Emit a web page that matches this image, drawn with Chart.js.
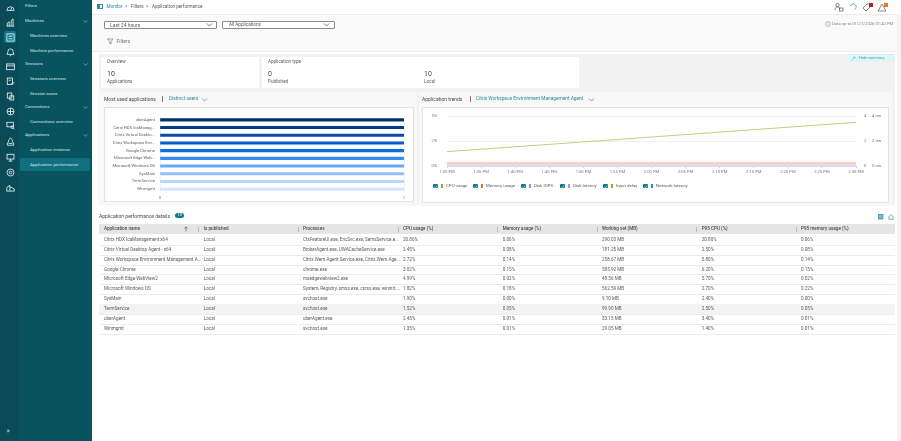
<!DOCTYPE html>
<html lang="en">
<head>
  <meta charset="UTF-8">
  <title>Application performance</title>
  <script src="https://cdn.jsdelivr.net/npm/chart.js"></script>
  <style>
    html, body { margin: 0; padding: 0; background: #fff; overflow: hidden; }
    #page { position: relative; width: 901px; height: 441px; overflow: hidden;
      font-family: 'Roboto', sans-serif; font-size: 4.6px; color: #5a5a5a; filter: blur(0.5px); }
    #page div, #page svg { position: absolute; }
    .t { white-space: nowrap; line-height: 6px; margin-top: -3px; }
    .nav { color: #cfe3e5; font-size: 4.4px; }
    .link { color: #2a8d9c; font-size: 4.8px; }
    .box { background: #fff; border: 0.6px solid #e3e3e3; box-sizing: border-box; }
    .dd { background: #fff; border: 0.7px solid #8a8a8a; border-radius: 1px; box-sizing: border-box; }
    .card { background: #fff; }
    .panel { background: #f8f8f8; }
    .big { font-size: 7px; color: #444; }
    .ttl { font-size: 5px; color: #4a4a4a; }
    .th { font-weight: 500; color: #4a4a4a; }
    .rowline { background: #ececec; height: 0.6px; }
    .chk { background: #0c7a8c; border-radius: 0.8px; width: 4.6px; height: 4.6px; }
  </style>
</head>
<body>
<div id="page">
  <!-- side nav -->
  <div style="left:0;top:0;width:18px;height:441px;background:#0a4b57"></div>
  <div style="left:18px;top:0;width:73.5px;height:441px;background:#07545f"></div>
  <div style="left:20px;top:158px;width:69.5px;height:13px;background:#106f7e;border-radius:2px"></div>
  <div style="left:4px;top:31px;width:12px;height:12px;background:#107a8a;border-radius:2px"></div>
  <div id="navIcons" style="left:0;top:0"></div>
  <div id="navItems" style="left:0;top:0"></div>
  <div class="t nav" style="left:6.500px;top:431px;font-size:7px">»</div>

  <!-- top bar -->
  <div style="left:91.5px;top:14px;width:810px;height:0.7px;background:#ececec"></div>
  <div style="left:97px;top:4px;width:5.5px;height:5px;border:0.7px solid #2c8ea0;background:linear-gradient(90deg,#2c8ea0 40%,#fff 40%);box-sizing:border-box"></div>
  <div class="t link" style="left:106.5px;top:6.5px;font-size:4.6px">Monitor</div>
  <div class="t" style="left:125px;top:6.5px">&gt;</div>
  <div class="t" style="left:131px;top:6.5px">Filters</div>
  <div class="t" style="left:146px;top:6.5px">&gt;</div>
  <div class="t" style="left:152px;top:6.5px">Application performance</div>

  <svg style="left:834px;top:2px" width="60" height="11" viewBox="0 0 60 11" fill="none" stroke="#555" stroke-width="0.7">
    <circle cx="3.500" cy="3" r="1.700"/><path d="M1 8c0-2 1-3 2.500-3s2 .5 2.500 1.500"/><rect x="5.500" y="6" width="3.500" height="3"/>
    <path d="M22 5a3 3 0 1 0-5 2" stroke="#2a93a4" transform="rotate(60 19 5)"/>
    <path d="M29 6l4-4 3 0 0 3-4 4z"/>
    <path d="M44 9l4-7 4 7z"/>
    <rect x="35" y="1" width="4" height="4" fill="#b3202a" stroke="none"/>
    <rect x="50" y="1" width="4" height="4" fill="#e8792b" stroke="none"/>
  </svg>

  <!-- filter strip -->
  <div style="left:91.5px;top:14.7px;width:810px;height:36px;background:#fafafa"></div>
  <div style="left:91.5px;top:50.5px;width:810px;height:0.7px;background:#ededed"></div>
  <div class="dd" style="left:104px;top:20.5px;width:113px;height:8.5px"></div>
  <div class="t" style="left:110px;top:24.7px;font-size:5px">Last 24 hours</div>
  <svg style="left:205.5px;top:23px" width="7" height="4" fill="none" stroke="#444" stroke-width="0.7"><path d="M1 .5l2.500 2.500 2.500-2.500"/></svg>
  <div class="dd" style="left:222px;top:20.5px;width:113px;height:8.5px"></div>
  <div class="t" style="left:229px;top:24.7px">All Applications</div>
  <svg style="left:323px;top:23px" width="7" height="4" fill="none" stroke="#444" stroke-width="0.7"><path d="M1 .5l2.500 2.500 2.500-2.500"/></svg>
  <svg style="left:107px;top:38px" width="7" height="7" fill="none" stroke="#666" stroke-width="0.6"><path d="M.5 1h5.500L4 3.500V6L2.800 5.500V3.500z"/></svg>
  <div class="t" style="left:116.500px;top:41px;font-size:5px;color:#777">Filters</div>
  <svg style="left:825px;top:21px" width="6" height="6" fill="none" stroke="#888" stroke-width="0.5"><circle cx="3" cy="3" r="2.500"/><path d="M3 1.500V3l1 1"/></svg>
  <div class="t" style="left:832px;top:24px;font-size:4.200px;color:#888">Data up to 01/21/2026 01:42 PM</div>

  <!-- summary -->
  <div style="left:99px;top:54px;width:796px;height:151px;background:#f2f2f2"></div>
  <div style="left:897px;top:14px;width:4px;height:427px;background:#f4f4f4"></div>
  <div style="left:848px;top:54px;width:47px;height:7.500px;background:#def5f5;border-radius:1px"></div>
  <div class="t" style="left:859px;top:57.500px;font-size:3.900px;color:#4a9aa5">Hide summary</div>
  <svg style="left:851px;top:55.500px" width="5" height="5" fill="none" stroke="#4a9aa5" stroke-width="0.5"><path d="M.5 4.500l3.500-3.500M2.500 1h1.500v1.500"/></svg>
  <div class="card" style="left:101px;top:57px;width:158px;height:31px"></div>
  <div class="card" style="left:262px;top:57px;width:317px;height:31px"></div>
  <div class="t" style="left:107px;top:62.200px">Overview</div>
  <div class="t big" style="left:107px;top:73.500px">10</div>
  <div class="t" style="left:107px;top:81.700px">Applications</div>
  <div class="t" style="left:268px;top:62.200px">Application type</div>
  <div class="t big" style="left:268px;top:73.500px">0</div>
  <div class="t" style="left:268px;top:81.700px">Published</div>
  <div class="t big" style="left:424px;top:73.500px">10</div>
  <div class="t" style="left:424px;top:81.700px">Local</div>

  <!-- panels -->
  <div class="panel" style="left:98px;top:92px;width:319px;height:114px"></div>
  <div class="panel" style="left:419px;top:92px;width:473px;height:114px"></div>
  <div class="t ttl" style="left:104px;top:99px">Most used applications</div>
  <div style="left:162px;top:96px;width:0.6px;height:6px;background:#777"></div>
  <div class="t link" style="left:169px;top:99.300px">Distinct users</div>
  <svg style="left:200.500px;top:97.500px" width="7" height="4" fill="none" stroke="#0f8191" stroke-width="0.6"><path d="M1 .5l2.500 2.500 2.500-2.500"/></svg>
  <div class="t ttl" style="left:422px;top:99px">Application trends</div>
  <div style="left:470px;top:96px;width:0.6px;height:6px;background:#777"></div>
  <div class="t link" style="left:476px;top:99.300px">Citrix Workspace Environment Management Agent</div>
  <svg style="left:588px;top:97.500px" width="7" height="4" fill="none" stroke="#0f8191" stroke-width="0.6"><path d="M1 .5l2.500 2.500 2.500-2.500"/></svg>

  <div class="box" style="left:104px;top:106.500px;width:309.500px;height:95.500px"></div>
  <div style="left:105px;top:107px;width:305px;height:95px"><canvas id="usedChart"></canvas></div>
  <div class="box" style="left:422px;top:106.500px;width:467px;height:96.500px"></div>
  <div style="left:423px;top:107px;width:465px;height:95px"><canvas id="trendChart"></canvas></div>
  <div id="trendLegend" style="left:0;top:0"></div>

  <!-- details table -->
  <div class="t ttl" style="left:99px;top:215.500px">Application performance details</div>
  <div style="left:175px;top:212.500px;width:9px;height:5.500px;border-radius:3px;background:#0c7a8c"></div>
  <div class="t" style="left:177.500px;top:215.400px;color:#fff;font-size:4px">10</div>
  <svg style="left:877.500px;top:214px" width="16" height="6" fill="none" stroke="#2a93a4" stroke-width="0.7">
    <rect x=".5" y=".5" width="4.500" height="4.500" fill="#7fbcc6"/><path d="M11 5.300h4V2.500l-2-2-2 2z"/>
  </svg>
  <div style="left:99px;top:224px;width:796px;height:10.400px;background:#e5e5e5"></div>
  <div id="detailTable" style="left:0;top:0"></div>
  <svg style="left:182.500px;top:226px" width="6" height="6" fill="none" stroke="#555" stroke-width="0.6"><path d="M3 5.500V.8M1 2.800l2-2 2 2"/></svg>
</div>

<script>
  // Most used applications (distinct users)
  const usedApps = ['uberAgent', 'Citrix HDX IcaManag...', 'Citrix Virtual Deskto...', 'Citrix Workspace Env...', 'Google Chrome',
    'Microsoft Edge Web...', 'Microsoft Windows OS', 'SysMain', 'TermService', 'Winmgmt'];
  const distinctUsers = [1, 1, 1, 1, 1, 1, 1, 1, 1, 1];
  const usedColors = ['#06306e', '#063a85', '#0a4ba8', '#0b59c4', '#0c6fe6', '#3b8af0', '#69a7f5', '#93c0f8', '#b9d5fb', '#d6e6fd'];
  const usedTicks = ['0', '1'];

  // Application trends
  const trendTimes = ['1:30 PM', '1:35 PM', '1:40 PM', '1:45 PM', '1:50 PM', '1:55 PM', '2:00 PM', '2:05 PM', '2:10 PM', '2:15 PM', '2:20 PM', '2:25 PM', '2:30 PM'];
  const cpuUsage = [1.43, 1.68, 1.92, 2.16, 2.41, 2.65, 2.9, 3.14, 3.39, 3.63, 3.88, 4.12, 4.37];
  const memoryUsage = [0.27, 0.27, 0.27, 0.27, 0.27, 0.27, 0.27, 0.27, 0.27, 0.27, 0.27, 0.27, 0.27];
  const diskIops = [0, 0, 0, 0, 0, 0, 0, 0, 0, 0, 0, 0, 0];
  const diskLatency = [0.08, 0.08, 0.08, 0.08, 0.08, 0.08, 0.08, 0.08, 0.08, 0.08, 0.08, 0.08, 0.08];
  const inputDelay = [0, 0, 0, 0, 0, 0, 0, 0, 0, 0, 0, 0, 0];
  const networkLatency = [0, 0, 0, 0, 0, 0, 0, 0, 0, 0, 0, 0, 0];
  const percentTicks = ['0%', '2%', '5%'];
  const countTicks = ['0', '2', '4'];
  const msTicks = ['0 ms', '2 ms', '4 ms'];

  const legendNames = ['CPU usage', 'Memory usage', 'Disk IOPS', 'Disk latency', 'Input delay', 'Network latency'];
  const legendColors = ['#9aa82e', '#e8702a', '#7f9dfc', '#b78af5', '#b99b12', '#1a9aa8'];
  const legendX = [433, 473, 521, 560, 603, 643];

  // Details table
  const tableHeaders = ['Application name', 'Is published', 'Processes', 'CPU usage (%)', 'Memory usage (%)', 'Working set (MB)', 'P95 CPU (%)', 'P95 memory usage (%)'];
  const appNames = ['Citrix HDX IcaManagement x64', 'Citrix Virtual Desktop Agent - x64', 'Citrix Workspace Environment Management A...', 'Google Chrome',
    'Microsoft Edge WebView2', 'Microsoft Windows OS', 'SysMain', 'TermService', 'uberAgent', 'Winmgmt'];
  const published = ['Local', 'Local', 'Local', 'Local', 'Local', 'Local', 'Local', 'Local', 'Local', 'Local'];
  const processes = ['CtxFeatureUI.exe, EncSvc.exe, SemsService.e...', 'BrokerAgent.exe, UWACacheService.exe', 'Citrix.Wem.Agent.Service.exe, Citrix.Wem.Age...', 'chrome.exe',
    'msedgewebview2.exe', 'System, Registry, smss.exe, csrss.exe, wininit....', 'svchost.exe', 'svchost.exe', 'uberAgent.exe', 'svchost.exe'];
  const cpuCol = ['20.86%', '2.45%', '2.72%', '3.02%', '4.99%', '1.82%', '1.90%', '1.52%', '2.45%', '1.35%'];
  const memCol = ['0.06%', '0.08%', '0.14%', '0.15%', '0.02%', '0.18%', '0.00%', '0.05%', '0.01%', '0.01%'];
  const workingCol = ['290.03 MB', '181.25 MB', '258.67 MB', '585.92 MB', '48.56 MB', '562.59 MB', '9.10 MB', '99.90 MB', '33.15 MB', '29.05 MB'];
  const p95CpuCol = ['20.80%', '2.50%', '5.80%', '6.20%', '5.70%', '2.70%', '2.40%', '2.50%', '3.40%', '1.40%'];
  const p95MemCol = ['0.06%', '0.08%', '0.14%', '0.15%', '0.02%', '0.22%', '0.00%', '0.05%', '0.01%', '0.01%'];
  const columnX = [104, 203.7, 303, 403, 502.7, 602, 701.7, 801];

  // Nav
  const navLabels = [['Filters', 25, 6, 1], ['Machines', 25, 21, 1], ['Machines overview', 30, 36, 0], ['Machine performance', 30, 51, 0],
    ['Sessions', 25, 64, 1], ['Sessions overview', 30, 79, 0], ['Session score', 30, 93.5, 0], ['Connections', 25, 106.5, 1],
    ['Connections overview', 30, 121.5, 0], ['Applications', 25, 135, 1], ['Application instance', 30, 150, 0], ['Application performance', 30, 165, 0]];
  const navIconY = [8, 22, 37, 52, 66, 81, 96, 111, 125, 141, 157, 172, 187];

  function el(parent, cls, css, text) {
    const d = document.createElement('div');
    d.className = cls;
    d.style.cssText = css;
    if (text) d.textContent = text;
    parent.appendChild(d);
  }

  const navItems = document.getElementById('navItems');
  navLabels.forEach(n => {
    el(navItems, 't nav', `left:${n[1]}px;top:${n[2]}px`, n[0]);
    if (n[3] && n[0] !== 'Filters') {
      navItems.insertAdjacentHTML('beforeend', `<svg style="left:82.500px;top:${n[2] - 1}px" width="5" height="3" fill="none" stroke="#b5d5d8" stroke-width="0.5"><path d="M.5 .5l2 1.700 2-1.700"/></svg>`);
    }
  });
  const navIcons = document.getElementById('navIcons');
  const navShapes = [
    '<path d="M.7 5a2.800 2.800 0 0 1 5.600 0zM3.500 5l1-2"/>',
    '<path d="M1 6.300V4l1.500-1v3.300M4 6.300V2l1.500-1.300v5.600M.5 6.300h6"/>',
    '<rect x=".7" y=".7" width="5.600" height="5.600"/><path d="M2 2.500h3M2 4.500h3"/>',
    '<path d="M3.500 .7a2 2 0 0 1 2 2.300l.6 2H.9l.6-2a2 2 0 0 1 2-2.300zM3 6h1"/>',
    '<rect x=".5" y="1.500" width="6" height="4.500"/><path d="M.5 3h6"/>',
    '<rect x="1" y=".8" width="4" height="5"/><path d="M2 2.500h2M4 4.500l1 1 1.500-1.500"/>',
    '<rect x="1" y=".8" width="3.500" height="4"/><rect x="3" y="3" width="3" height="3.200"/>',
    '<circle cx="3.500" cy="3.500" r="2.700"/><path d="M1 3.500h5M3.500 1v5"/>',
    '<rect x=".7" y="1" width="5" height="3.500"/><circle cx="4.800" cy="4.800" r="1"/><path d="M5.500 5.500l1 1"/>',
    '<path d="M3.500 .6l1.500 2v1.400l1 .6v1.800H1V4.600l1-.6V2.600zM2 5h3"/>',
    '<rect x=".8" y="1" width="5.400" height="3.700"/><path d="M2 6.300h3M3.500 4.700v1.600"/>',
    '<circle cx="3.500" cy="3.500" r="1"/><circle cx="3.500" cy="3.500" r="2.700"/>',
    '<path d="M.6 6.300V3.500L3 1.800v4.500M3 3l3.400 1.500v1.800M.4 6.300h6.200"/>'
  ];
  navIconY.forEach((y, i) => {
    navIcons.insertAdjacentHTML('beforeend', `<svg style="left:5.500px;top:${y - 4.500}px" width="9" height="9" viewBox="0 0 7 7" fill="none" stroke="#e6f2f3" stroke-width="0.65">${navShapes[i]}</svg>`);
  });

  // trend legend: checkbox + colour chip + label
  const trendLegend = document.getElementById('trendLegend');
  legendNames.forEach((name, i) => {
    const x = legendX[i];
    el(trendLegend, 'chk', `left:${x}px;top:183.700px`);
    trendLegend.insertAdjacentHTML('beforeend', `<svg style="left:${x + 0.6}px;top:184.500px" width="4" height="3.500" fill="none" stroke="#fff" stroke-width="0.6"><path d="M.5 1.800l1 1 1.800-2.300"/></svg>`);
    el(trendLegend, '', `left:${x + 7.500}px;top:183.700px;width:2.600px;height:4.600px;background:${legendColors[i]}`);
    el(trendLegend, 't', `left:${x + 13}px;top:186px;font-size:4.400px`, name);
  });

  // details table
  const table = document.getElementById('detailTable');
  const columns = [appNames, published, processes, cpuCol, memCol, workingCol, p95CpuCol, p95MemCol];
  tableHeaders.forEach((h, c) => {
    el(table, 't th', `left:${columnX[c]}px;top:229.200px`, h);
    if (c > 0) el(table, '', `left:${columnX[c] - 5.500}px;top:226.500px;width:0.6px;height:5.500px;background:#bdbdbd`);
  });
  appNames.forEach((_, r) => {
    const y = 240 + r * 9.86;
    if (appNames[r] === 'TermService') el(table, '', `left:99px;top:${y - 4.900}px;width:796px;height:9.800px;background:#f3f3f3`);
    el(table, 'rowline', `left:99px;top:${y + 4.900}px;width:796px`);
    columns.forEach((col, c) => el(table, 't', `left:${columnX[c]}px;top:${y}px`, col[r]));
  });

  const tickFont = { family: 'Roboto', size: 4.2 };

  new Chart(document.getElementById('usedChart'), {
    type: 'bar',
    data: {
      labels: usedApps,
      datasets: [{ data: distinctUsers, backgroundColor: usedColors, barThickness: 2.4, borderRadius: 1 }]
    },
    options: {
      indexAxis: 'y',
      responsive: true,
      maintainAspectRatio: false,
      animation: false,
      layout: { padding: { top: 9, right: 6 } },
      plugins: { legend: { display: false }, tooltip: { enabled: false } },
      scales: {
        x: {
          min: 0, max: 1,
          border: { display: false },
          grid: { color: '#f1f1f1', drawTicks: false },
          ticks: { stepSize: 1, maxRotation: 0, padding: 2, color: '#777', font: tickFont, callback: (v, i) => usedTicks[i] },
          afterFit: s => { s.height = 9; }
        },
        y: {
          border: { display: false },
          grid: { display: false, drawTicks: false },
          ticks: { padding: 5, autoSkip: false, color: '#666', font: tickFont },
          afterFit: s => { s.width = 55; }
        }
      }
    }
  });

  const flat = { pointRadius: 0, tension: 0, clip: false };
  // the axes ask for room above the plot that the layout padding already gives
  const noPad = s => { s.paddingTop = 0; s.paddingBottom = 0; };
  new Chart(document.getElementById('trendChart'), {
    type: 'line',
    data: {
      labels: trendTimes,
      datasets: [
        { label: legendNames[1], data: memoryUsage, yAxisID: 'y', borderColor: '#f7cbab', borderWidth: 2, ...flat },
        { label: legendNames[4], data: inputDelay, yAxisID: 'yMs', borderColor: '#dcd6fb', borderWidth: 0.8, ...flat },
        { label: legendNames[5], data: networkLatency, yAxisID: 'yMs', borderColor: '#dcd6fb', borderWidth: 0.8, ...flat },
        { label: legendNames[2], data: diskIops, yAxisID: 'yCount', borderColor: '#c9d2fc', borderWidth: 0.8, ...flat },
        { label: legendNames[3], data: diskLatency, yAxisID: 'y', borderColor: '#c3b2f7', borderWidth: 1, ...flat },
        { label: legendNames[0], data: cpuUsage, yAxisID: 'y', borderColor: '#c6cd78', borderWidth: 1, ...flat }
      ]
    },
    options: {
      responsive: true,
      maintainAspectRatio: false,
      animation: false,
      layout: { padding: { top: 9 } },
      plugins: { legend: { display: false }, tooltip: { enabled: false } },
      scales: {
        x: {
          offset: false,
          border: { display: false },
          grid: { drawOnChartArea: false, tickColor: '#cfd6dc', tickLength: 2 },
          ticks: { autoSkip: false, maxRotation: 0, padding: 1, color: '#777', font: tickFont },
          afterFit: s => { s.height = 36; noPad(s); }
        },
        y: {
          min: 0, max: 5,
          position: 'left',
          border: { display: false },
          grid: { color: '#f1f1f1', drawTicks: false },
          afterBuildTicks: s => { s.ticks = [{ value: 0 }, { value: 2.5 }, { value: 5 }]; },
          ticks: { padding: 10, color: '#777', font: tickFont, callback: (v, i) => percentTicks[i] },
          afterFit: s => { s.width = 24; noPad(s); }
        },
        yCount: {
          min: 0, max: 4,
          position: 'right',
          border: { display: false },
          grid: { display: false, drawTicks: false },
          ticks: { stepSize: 2, padding: 8, color: '#777', font: tickFont, callback: (v, i) => countTicks[i] },
          afterFit: s => { s.width = 14; noPad(s); }
        },
        yMs: {
          min: 0, max: 4,
          position: 'right',
          border: { display: false },
          grid: { display: false, drawTicks: false },
          ticks: { stepSize: 2, padding: 2, color: '#777', font: tickFont, callback: (v, i) => msTicks[i] },
          afterFit: s => { s.width = 18; noPad(s); }
        }
      }
    }
  });
</script>
</body>
</html>
